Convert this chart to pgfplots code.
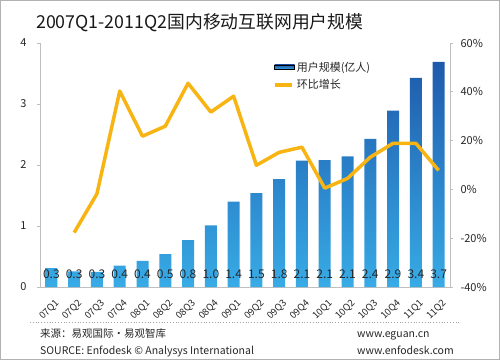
\documentclass[border=0pt]{standalone}
\usepackage{fontspec}
\setmainfont{Noto Sans CJK SC}
\usepackage{pgfplots}
\pgfplotsset{compat=1.18}
\definecolor{bardark}{HTML}{1E5AAC}
\definecolor{barlight}{HTML}{38ABE6}
\definecolor{lineor}{HTML}{F7B412}
\definecolor{axgray}{HTML}{BFBFBF}
\begin{document}
\begin{tikzpicture}[x=1pt,y=1pt]
\draw[gray!60, line width=1pt] (0.5,0.5) rectangle (499.5,359.5);
\node[anchor=base west, font=\fontsize{17.8}{17.8}\selectfont, text=black!90, inner sep=0] at (36,332) {2007Q1-2011Q2国内移动互联网用户规模};
\begin{axis}[
  at={(40pt,73pt)}, anchor=south west, scale only axis, width=410pt, height=244pt,
  xmin=-0.5, xmax=17.5, ymin=0, ymax=4,
  axis y line*=left, axis x line*=bottom,
  axis line style={axgray, line width=0.8pt},
  xtick={0,...,17},
  xticklabels={07Q1,07Q2,07Q3,07Q4,08Q1,08Q2,08Q3,08Q4,09Q1,09Q2,09Q3,09Q4,10Q1,10Q2,10Q3,10Q4,11Q1,11Q2},
  x tick label style={rotate=45, anchor=north east, inner sep=0pt, font=\fontsize{9.5}{9.5}\selectfont, text=black!85, xshift=-4pt, yshift=-8pt},
  xtick style={draw=none},
  ytick={0,1,2,3,4},
  ytick style={axgray, line width=0.8pt},
  tick align=outside, major tick length=3pt,
  y tick label style={font=\fontsize{11}{11}\selectfont, text=black!85, xshift=-7pt},
  /pgf/number format/assume math mode=true,
]
\addplot[ybar, bar width=12pt, draw=none, top color=bardark, bottom color=barlight] coordinates {
(0,0.31) (1,0.255) (2,0.25) (3,0.35) (4,0.43) (5,0.54) (6,0.77) (7,1.01) (8,1.40) (9,1.54) (10,1.77) (11,2.07) (12,2.08) (13,2.14) (14,2.43) (15,2.89) (16,3.43) (17,3.69)};
\addplot[draw=none, mark=none, nodes near coords, point meta=explicit symbolic,
  every node near coord/.append style={anchor=center, font=\fontsize{12}{12}\selectfont, text=black!85}] coordinates {
(0,0.21)[0.3] (1,0.21)[0.3] (2,0.21)[0.3] (3,0.21)[0.4] (4,0.21)[0.4] (5,0.21)[0.5] (6,0.21)[0.8] (7,0.21)[1.0] (8,0.21)[1.4] (9,0.21)[1.5] (10,0.21)[1.8] (11,0.21)[2.1] (12,0.21)[2.1] (13,0.21)[2.1] (14,0.21)[2.4] (15,0.21)[2.9] (16,0.21)[3.4] (17,0.21)[3.7]};
\end{axis}
\begin{axis}[
  at={(40pt,73pt)}, anchor=south west, scale only axis, width=410pt, height=244pt,
  xmin=-0.5, xmax=17.5, ymin=-40, ymax=60,
  axis y line*=right, axis x line=none,
  axis line style={axgray, line width=0.8pt},
  ytick={-40,-20,0,20,40,60},
  yticklabel={\pgfmathprintnumber{\tick}\%},
  ytick style={axgray, line width=0.8pt},
  tick align=outside, major tick length=3pt,
  y tick label style={font=\fontsize{11}{11}\selectfont, text=black!85, xshift=4pt},
  /pgf/number format/assume math mode=true,
  legend style={at={(0.56,0.94)}, anchor=north west, draw=none, fill=none, font=\fontsize{11}{13}\selectfont, row sep=3pt, text=black!85},
  legend cell align=left,
]
\addlegendimage{legend image code/.code={\fill[top color=bardark, bottom color=barlight] (0pt,-2.3pt) rectangle (20pt,2.3pt);}}
\addlegendentry{用户规模(亿人)}
\addplot[lineor, line width=3.5pt, line join=round, mark=none] coordinates {
(1,-17.7) (2,-1.8) (3,40.3) (4,21.8) (5,25.9) (6,43.5) (7,31.7) (8,38.2) (9,9.9) (10,15.2) (11,17.3) (12,0.5) (13,4.5) (14,13.2) (15,18.9) (16,18.9) (17,7.8)};
\addlegendentry{环比增长}
\end{axis}
\draw[gray!70, dotted, line width=0.8pt] (30,38) -- (460,38);
\node[anchor=base west, inner sep=0, font=\fontsize{10.5}{10.5}\selectfont, text=black!85] at (40,23) {来源：易观国际·易观智库};
\node[anchor=base west, inner sep=0, font=\fontsize{10.5}{10.5}\selectfont, text=black!85] at (40,6) {SOURCE: Enfodesk © Analysys International};
\node[anchor=base west, inner sep=0, font=\fontsize{10.5}{10.5}\selectfont, text=black!85] at (357,23) {www.eguan.cn};
\node[anchor=base west, inner sep=0, font=\fontsize{10.5}{10.5}\selectfont, text=black!85] at (357,6) {www.enfodesk.com};
\end{tikzpicture}
\end{document}
